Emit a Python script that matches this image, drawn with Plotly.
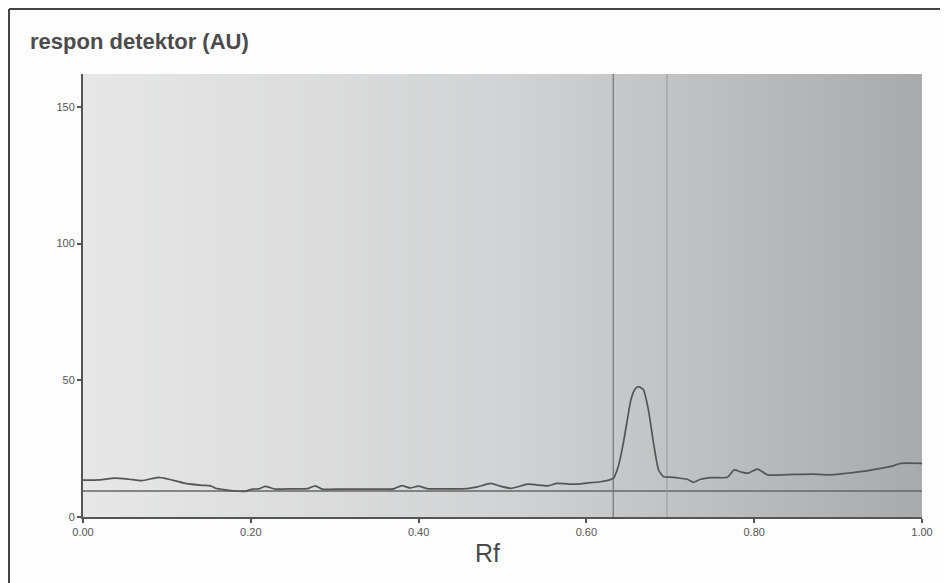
import numpy as np
import plotly.graph_objects as go

# ---- data ----
rf = [0.00, 0.02, 0.038, 0.055, 0.07, 0.09, 0.101, 0.122, 0.142, 0.152, 0.158, 0.17,
      0.181, 0.193, 0.202, 0.21, 0.217, 0.229, 0.25, 0.268, 0.277, 0.285, 0.31, 0.35,
      0.37, 0.38, 0.39, 0.40, 0.41, 0.44, 0.458, 0.47, 0.486, 0.495, 0.51, 0.53, 0.554,
      0.565, 0.585, 0.60, 0.617, 0.627, 0.632, 0.638, 0.644, 0.649, 0.653, 0.658, 0.662,
      0.668, 0.674, 0.680, 0.686, 0.692, 0.70, 0.709, 0.72, 0.728, 0.736, 0.75, 0.768,
      0.776, 0.784, 0.792, 0.804, 0.816, 0.84, 0.871, 0.888, 0.91, 0.927, 0.951, 0.963,
      0.975, 1.0]
response = [13.5, 13.6, 14.2, 13.8, 13.3, 14.5, 13.9, 12.3, 11.6, 11.4, 10.5, 9.9,
            9.5, 9.4, 10.2, 10.3, 11.2, 10.2, 10.3, 10.4, 11.4, 10.2, 10.2, 10.2,
            10.3, 11.5, 10.6, 11.3, 10.4, 10.3, 10.4, 11.0, 12.3, 11.5, 10.5, 12.0, 11.4,
            12.3, 12.0, 12.4, 12.9, 13.5, 14.1, 18.5, 27.0, 36.0, 42.8, 46.8, 47.7,
            46.5, 39.0, 27.0, 17.2, 14.7, 14.6, 14.3, 13.8, 12.7, 13.8, 14.4, 14.5,
            17.2, 16.5, 16.0, 17.5, 15.4, 15.5, 15.7, 15.4, 16.0, 16.6, 17.8, 18.5,
            19.6, 19.6]
baseline_level = 9.5
peak_start, peak_end = 0.632, 0.696
x_ticks = [0.0, 0.2, 0.4, 0.6, 0.8, 1.0]
x_ticklabels = ["0.00", "0.20", "0.40", "0.60", "0.80", "1.00"]
y_ticks = [0, 50, 100, 150]
y_max = 162

fig = go.Figure()

# gradient background (light left -> darker right)
edges = np.linspace(0, 1, 201)
fig.add_trace(go.Heatmap(
    x=edges, y=[0, y_max], z=[list(np.linspace(0, 1, 200))],
    colorscale=[[0, "#e7e7e7"], [0.5, "#d2d3d4"], [1, "#a8aaac"]],
    showscale=False, hoverinfo="skip", zsmooth="best"))

# baseline
fig.add_trace(go.Scatter(x=[0, 1], y=[baseline_level, baseline_level], mode="lines",
                         line=dict(color="#666666", width=1.5), hoverinfo="skip"))
# integration boundaries
fig.add_trace(go.Scatter(x=[peak_start, peak_start], y=[0, y_max], mode="lines",
                         line=dict(color="#7a7a7a", width=1.3), hoverinfo="skip"))
fig.add_trace(go.Scatter(x=[peak_end, peak_end], y=[0, y_max], mode="lines",
                         line=dict(color="#9c9c9c", width=1.1), hoverinfo="skip"))
# densitogram
fig.add_trace(go.Scatter(x=rf, y=response, mode="lines",
                         line=dict(color="#555555", width=1.7, shape="spline", smoothing=0.5)))

axis_common = dict(showgrid=False, zeroline=False, showline=True, linecolor="#555555",
                   linewidth=2, ticks="outside", ticklen=4, tickcolor="#555555",
                   tickwidth=1.5, tickfont=dict(family="Liberation Sans", size=11, color="#555555"))

fig.update_xaxes(range=[0, 1], tickvals=x_ticks, ticktext=x_ticklabels, **axis_common)
fig.update_yaxes(range=[0, y_max], tickvals=y_ticks, **axis_common)

# the page body adds an 8px offset; figure is sized so the plot lands where the reference has it
fig.update_layout(
    width=940, height=575,
    margin=dict(l=75, r=26, t=66, b=66),
    paper_bgcolor="#fdfdfd", plot_bgcolor="#dcdcdc",
    showlegend=False,
    annotations=[
        dict(text="<b>respon detektor (AU)</b>", xref="paper", yref="paper",
             x=(28 - 83) / 839, y=(517 - 42) / 443, xanchor="left", yanchor="middle",
             showarrow=False, font=dict(family="Liberation Sans", size=22, color="#4c4c4c")),
        dict(text="Rf", xref="paper", yref="paper",
             x=(487 - 83) / 839, y=(517 - 553) / 443, xanchor="center", yanchor="middle",
             showarrow=False, font=dict(family="Liberation Sans", size=25, color="#4a4a4a")),
    ],
    shapes=[
        dict(type="line", xref="paper", yref="paper", x0=-74 / 839, x1=866 / 839,
             y0=(509 - 1) / 443, y1=(509 - 1) / 443, line=dict(color="#444444", width=2)),
        dict(type="line", xref="paper", yref="paper", x0=-74 / 839, x1=-74 / 839,
             y0=(509 - 1) / 443, y1=-66 / 443, line=dict(color="#444444", width=2)),
    ],
)

fig.write_html("out.html")
